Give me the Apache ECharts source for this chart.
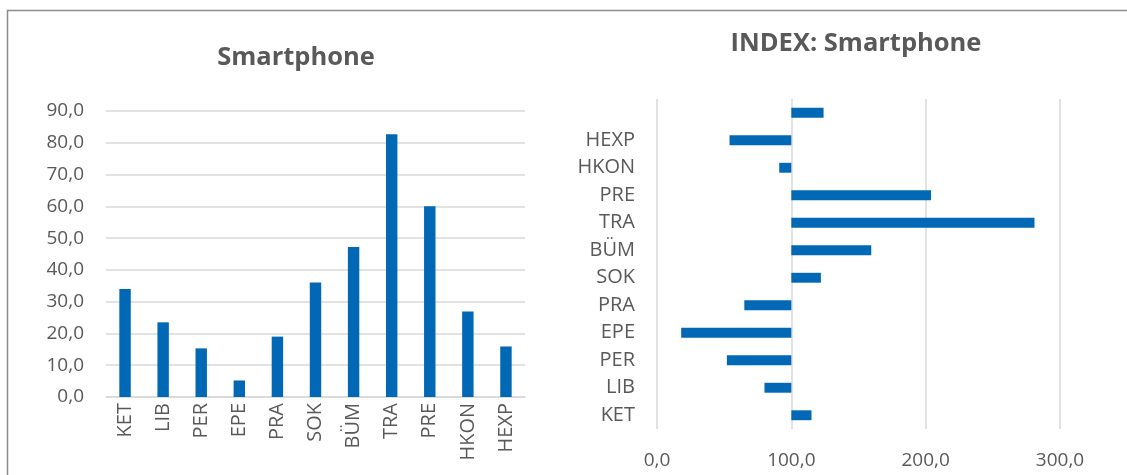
<!DOCTYPE html>
<html>
<head>
<meta charset="utf-8">
<script src="https://cdn.jsdelivr.net/npm/echarts@6/dist/echarts.min.js"></script>
<style>
  html, body { margin: 0; padding: 0; background: #fff; }
  #chart { width: 1127px; height: 475px; }
</style>
</head>
<body>
<div id="chart"></div>
<script>
// left chart: share in %
const categories = ['KET', 'LIB', 'PER', 'EPE', 'PRA', 'SOK', 'BÜM', 'TRA', 'PRE', 'HKON', 'HEXP'];
const shareValues = [34.0, 23.5, 15.3, 5.2, 19.0, 36.0, 47.2, 82.7, 60.0, 26.9, 15.9];

// right chart: index, bottom to top (last row has no label)
const indexCategories = ['KET', 'LIB', 'PER', 'EPE', 'PRA', 'SOK', 'BÜM', 'TRA', 'PRE', 'HKON', 'HEXP', ''];
const indexValues = [115, 80, 52, 18, 65, 122, 159.5, 281, 204, 91, 54, 124];
const indexBase = 100;

const leftTicks = [0, 90, 10];
const rightTicks = [0, 300, 100];

const FONT = '"Open Sans", sans-serif';
const TEXT = '#595959';
const GRID = '#d9d9d9';
const BLUE = '#0068b5';

const fmt = v => v.toFixed(1).replace('.', ',');

// bars float from the base value 100
const baseData = indexValues.map(v => Math.min(v, indexBase));
const diffData = indexValues.map(v => Math.abs(v - indexBase));

const chart = echarts.init(document.getElementById('chart'));
chart.setOption({
    animation: false,
    textStyle: { fontFamily: FONT },
    graphic: [{
        type: 'polyline',
        shape: { points: [[7.5, 480], [7.5, 10.5], [1127, 10.5]] },
        style: { stroke: '#8c8c8c', lineWidth: 1.5, fill: null }
    }],
    title: [
        {
            text: 'Smartphone', left: 291, top: 40, textAlign: 'center',
            textStyle: { fontFamily: FONT, fontSize: 25.5, fontWeight: 'bold', color: TEXT }
        },
        {
            text: 'INDEX: Smartphone', left: 851, top: 26, textAlign: 'center',
            textStyle: { fontFamily: FONT, fontSize: 25.5, fontWeight: 'bold', color: TEXT }
        }
    ],
    grid: [
        { left: 106, right: 602, top: 111, bottom: 78 },
        { left: 657, right: 67, top: 99, bottom: 46 }
    ],
    xAxis: [
        {
            gridIndex: 0, type: 'category', data: categories,
            axisLine: { lineStyle: { color: GRID, width: 1.5 } },
            axisTick: { show: false },
            axisLabel: { rotate: 90, margin: 6, color: TEXT, fontSize: 20, fontFamily: FONT, interval: 0 }
        },
        {
            gridIndex: 1, type: 'value',
            min: rightTicks[0], max: rightTicks[1], interval: rightTicks[2],
            axisLine: { show: false },
            axisTick: { show: false },
            splitLine: { lineStyle: { color: GRID, width: 1.5 } },
            axisLabel: { margin: 22, color: TEXT, fontSize: 19, fontFamily: FONT, formatter: fmt }
        }
    ],
    yAxis: [
        {
            gridIndex: 0, type: 'value',
            min: leftTicks[0], max: leftTicks[1], interval: leftTicks[2],
            axisLine: { show: false },
            axisTick: { show: false },
            splitLine: { lineStyle: { color: GRID, width: 1.5 } },
            axisLabel: { margin: 22, color: TEXT, fontSize: 19, fontFamily: FONT, formatter: fmt }
        },
        {
            gridIndex: 1, type: 'category', data: indexCategories,
            axisLine: { show: false },
            axisTick: { show: false },
            axisLabel: { margin: 22, color: TEXT, fontSize: 20, fontFamily: FONT, interval: 0 }
        }
    ],
    series: [
        {
            type: 'bar', xAxisIndex: 0, yAxisIndex: 0,
            data: shareValues, barWidth: '30%',
            itemStyle: { color: BLUE }
        },
        {
            type: 'bar', xAxisIndex: 1, yAxisIndex: 1, stack: 'idx',
            data: baseData, barWidth: '36%',
            itemStyle: { color: 'transparent' }, silent: true
        },
        {
            type: 'bar', xAxisIndex: 1, yAxisIndex: 1, stack: 'idx',
            data: diffData, barWidth: '36%',
            itemStyle: { color: BLUE }
        }
    ]
});
</script>
</body>
</html>
